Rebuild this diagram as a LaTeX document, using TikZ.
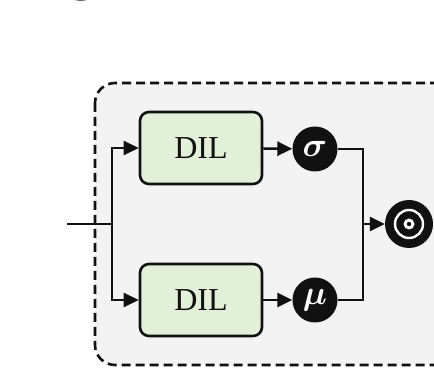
\documentclass[tikz,border=0pt]{standalone}
\usepackage{amsmath,bm}
\usepackage{graphicx}
\usepackage{fontspec}
\setmainfont{Liberation Serif}
\usepackage{xcolor}
\usetikzlibrary{arrows.meta,positioning,calc}
\definecolor{ink}{HTML}{111111}
\definecolor{panel}{HTML}{F3F3F3}
\definecolor{dilgreen}{HTML}{E2EFD9}

\begin{document}
\begin{tikzpicture}[
  x=1pt, y=-1pt,
  every node/.style={font=\fontsize{32}{36}\selectfont, text=ink},
  dilbox/.style={draw=ink, fill=dilgreen, rounded corners=9pt, line width=2.6pt,
                 minimum width=122pt, minimum height=72pt, inner sep=0pt},
  gate/.style={circle, fill=ink, minimum size=45pt, inner sep=0pt, text=white,
               font=\normalsize},
  arr/.style={-{Triangle[length=15pt,width=14pt]}, ink, line width=2.6pt},
  wire/.style={ink, line width=2.6pt}
]
\useasboundingbox (0,0) rectangle (434,371);
% cut caption letter above the panel
\node[anchor=base west, inner sep=0pt, font=\fontsize{54}{60}\selectfont] (cap) at (68,-10) {g};
% dashed panel
\draw[ink, fill=panel, dash pattern=on 9pt off 5pt, line width=2.6pt, rounded corners=20pt]
  (95,83) rectangle (470,365);

\node[dilbox] (dil1) at (201,148) {DIL};
\node[dilbox] (dil2) at (201,300) {DIL};
\node[gate] (sig) at (315,149) {\scalebox{3.4}{$\bm{\sigma}$}};
\node[gate] (mu) at (315,300) {\scalebox{3.4}{$\bm{\mu}$}};
\node[circle, fill=ink, minimum size=48pt, inner sep=0pt] (out) at (409,224) {};
\draw[white, line width=2.4pt] (out.center) circle (14pt);
\fill[white] (out.center) circle (5.5pt);
\fill[ink] (out.center) circle (2.2pt);

\coordinate (in) at (67,224);
\coordinate (split) at (112,224);
\coordinate (merge) at (363,224);

\draw[wire] (in) -- (split);
\draw[arr] (split) |- (dil1.west);
\draw[arr] (split) |- (dil2.west);
\draw[arr] (dil1) -- (sig);
\draw[arr] (dil2) -- (mu);
\draw[wire] (sig) -| (merge);
\draw[wire] (mu) -| (merge);
\draw[arr] (merge) -- (out);
\end{tikzpicture}
\end{document}
